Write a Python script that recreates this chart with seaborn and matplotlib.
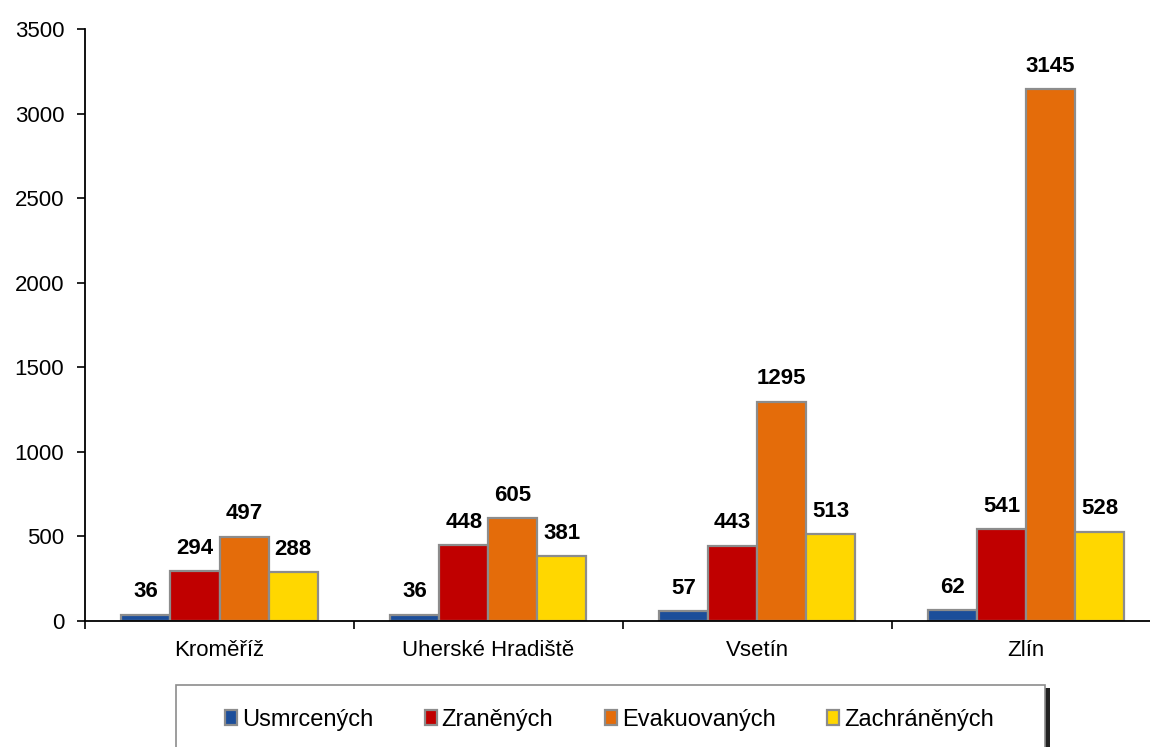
import pandas as pd
import numpy as np
import seaborn as sns
import matplotlib.pyplot as plt
from matplotlib.patches import Rectangle

# data
okresy = ["Kroměříž", "Uherské Hradiště", "Vsetín", "Zlín"]
usmrcenych = [36, 36, 57, 62]
zranenych = [294, 448, 443, 541]
evakuovanych = [497, 605, 1295, 3145]
zachranenych = [288, 381, 513, 528]
serie = ["Usmrcených", "Zraněných", "Evakuovaných", "Zachráněných"]
barvy = ["#1C4E9A", "#C00000", "#E46C0A", "#FFD700"]

data = pd.DataFrame({
    "okres": okresy * 4,
    "serie": [s for s in serie for _ in okresy],
    "pocet": usmrcenych + zranenych + evakuovanych + zachranenych,
})

sns.set_style("white")
plt.rcParams['font.family'] = ['Liberation Sans', 'DejaVu Sans']
plt.rcParams['text.color'] = 'black'
plt.rcParams['xtick.color'] = 'black'
plt.rcParams['ytick.color'] = 'black'

fig, ax = plt.subplots(figsize=(11.5, 7.47), dpi=100)
fig.subplots_adjust(left=0.074, right=1.009, top=0.961, bottom=0.169)

sns.barplot(data=data, x="okres", y="pocet", hue="serie", hue_order=serie,
            palette=barvy, width=0.73, edgecolor="#8C8C8C", linewidth=1.6,
            saturation=1, ax=ax, legend=True)

for c in ax.containers:
    ax.bar_label(c, fmt="%d", padding=9, fontsize=16, fontweight="bold", color="black")

ax.set_ylim(0, 3500)
ax.set_yticks(range(0, 3501, 500))
ax.set_xlim(-0.5, 3.5)
ax.set_xlabel("")
ax.set_ylabel("")
ax.tick_params(axis="y", labelsize=16, length=6, width=1.2, direction="out", left=True, pad=9)
ax.tick_params(axis="x", which="major", labelsize=16, length=0, pad=14)
ax.set_xticks(np.arange(-0.5, 4, 1), minor=True)
ax.tick_params(axis="x", which="minor", length=6, width=1.2, direction="out", bottom=True)
for s in ["top", "right"]:
    ax.spines[s].set_visible(False)
for s in ["left", "bottom"]:
    ax.spines[s].set_color("black")
    ax.spines[s].set_linewidth(1.3)

# legend box with shadow
x0, x1, ytop = 176 / 1150, 1045 / 1150, 1 - 685 / 747
fig.patches.append(Rectangle((x0 + 0.004, -0.05), x1 - x0, ytop + 0.05 - 0.004,
                             transform=fig.transFigure, facecolor="#222222",
                             edgecolor="none", zorder=1))
fig.patches.append(Rectangle((x0, -0.05), x1 - x0, ytop + 0.05,
                             transform=fig.transFigure, facecolor="white",
                             edgecolor="#8C8C8C", linewidth=1.2, zorder=2))

ax.get_legend().remove()
handles, labels = ax.get_legend_handles_labels()
leg = fig.legend(handles, labels, loc="center", ncol=4,
                 bbox_to_anchor=(0.530, 1 - 720 / 747),
                 frameon=False, fontsize=17,
                 handlelength=0.5, handleheight=0.6, handletextpad=0.2,
                 columnspacing=2.2)
leg.set_zorder(3)

plt.savefig("out.png", dpi=100)
